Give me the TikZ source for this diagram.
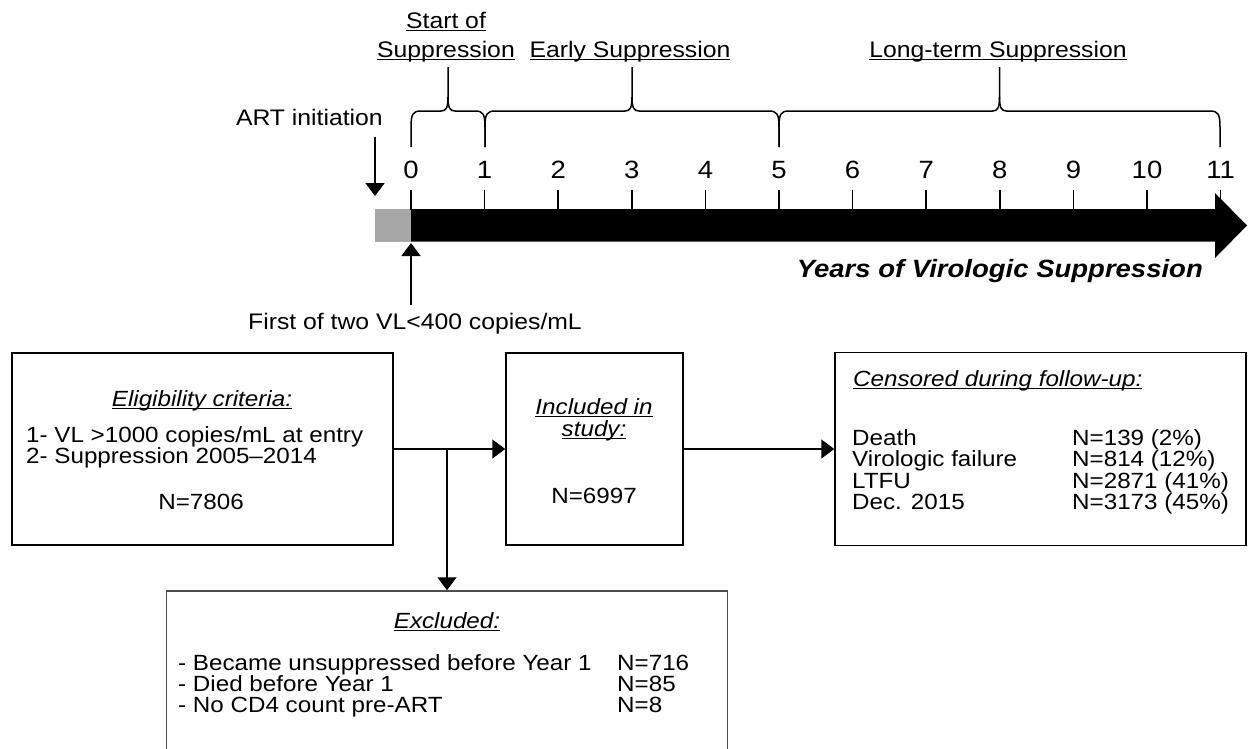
\documentclass[tikz,border=0pt]{standalone}
\usepackage{fontspec}
\setmainfont{Liberation Sans}[FakeStretch=1.1]
\usetikzlibrary{arrows.meta}
\newcommand\myul[1]{\setbox0=\hbox{#1}\rlap{\rule[-3pt]{\wd0}{1.5pt}}\box0}
\tikzset{
  boxx/.style={draw, line width=1.5pt, inner sep=0pt},
  txt/.style={inner sep=0pt, font=\fontsize{22pt}{22pt}\selectfont},
  lbl/.style={inner sep=0pt, font=\fontsize{22.5pt}{23pt}\selectfont},
  num/.style={inner sep=0pt, font=\fontsize{25pt}{25pt}\selectfont},
  arr/.style={line width=1.5pt, -{Triangle[width=19pt,length=13pt]}},
  tickmark/.style={line width=1.5pt},
  brc/.style={line width=1.5pt, line join=round},
}
\begin{document}
\begin{tikzpicture}[x=1pt,y=-1pt]
\useasboundingbox (0,0) rectangle (1248,748);
\clip (0,0) rectangle (1248,748);
\fill[white] (0,0) rectangle (1248,748);

% ---------- timeline ----------
\fill[black!35] (375,209) rectangle (411,241.5);
\fill[black] (411,209) -- (1215,209) -- (1215,193) -- (1247,225.5) -- (1215,258) -- (1215,241.5) -- (411,241.5) -- cycle;
\foreach \i in {0,...,11}{
  \draw[tickmark] ({411+73.6*\i},190) -- ({411+73.6*\i},209.5);
  \node[num, anchor=base] (n\i) at ({411+73.6*\i},178) {\i};
}

% braces
\foreach \a/\m/\b in {411/448/485, 485/632/779, 779/999.5/1220}{
  \draw[brc] (\a,147) -- (\a,127) .. controls (\a,114) and ({\a+2},111) .. ({\a+10},111)
     -- ({\m-7},111) .. controls ({\m-2},111) and (\m,108) .. (\m,97) -- (\m,67);
  \draw[brc] (\m,97) .. controls (\m,108) and ({\m+2},111) .. ({\m+7},111)
     -- ({\b-10},111) .. controls ({\b-2},111) and (\b,114) .. (\b,127) -- (\b,147);
}

\node[lbl, anchor=base] (s1) at (446,28) {\myul{Start of}};
\node[lbl, anchor=base] (s2) at (446,57) {\myul{Suppression}};
\node[lbl, anchor=base] (es) at (630,57) {\myul{Early Suppression}};
\node[lbl, anchor=base] (ls) at (998,57) {\myul{Long-term Suppression}};

\node[lbl, anchor=base east] (art) at (383,125) {ART initiation};
\coordinate (artA) at (375,137);
\coordinate (artB) at (375,196);
\draw[arr] (artA) -- (artB);

\node[lbl, anchor=base west] (fst) at (248,329) {First of two VL<400 copies/mL};
\coordinate (fstA) at (411,305);
\coordinate (fstB) at (411,243);
\draw[arr] (fstA) -- (fstB);

\node[anchor=base east, inner sep=0pt, font=\fontsize{25pt}{25pt}\selectfont\bfseries\itshape] (yrs) at (1203,277) {Years of Virologic Suppression};

% ---------- flow boxes ----------
\node[boxx, minimum width=381pt, minimum height=192pt] (elig) at (202.5,449) {};
\node[boxx, minimum width=177pt, minimum height=192pt] (incl) at (594.5,449) {};
\node[boxx, minimum width=411pt, minimum height=193pt] (cens) at (1040.5,449) {};
\node[boxx, draw=black!70, minimum width=561pt, minimum height=218pt] (excl) at (447,700) {};

\node[txt, anchor=base] (et) at (202,406) {\myul{\itshape Eligibility criteria:}};
\node[txt, anchor=base west] (e1) at (26,442) {1- VL >1000 copies/mL at entry};
\node[txt, anchor=base west] (e2) at (26,463) {2- Suppression 2005--2014};
\node[txt, anchor=base] (e3) at (201,509) {N=7806};

\node[txt, anchor=base] (i1) at (594,414) {\myul{\itshape Included in}};
\node[txt, anchor=base] (i2) at (594,436) {\myul{\itshape study:}};
\node[txt, anchor=base] (i3) at (594,503) {N=6997};

\node[txt, anchor=base west] (ct) at (853,386) {\myul{\itshape Censored during follow-up:}};
\node[txt, anchor=base west] (c1) at (852,445) {Death};
\node[txt, anchor=base west] (c2) at (852,466.5) {Virologic failure};
\node[txt, anchor=base west] (c3) at (852,488) {LTFU};
\node[txt, anchor=base west] (c4) at (852,509.5) {Dec. 2015};
\node[txt, anchor=base west] (d1) at (1072,445) {N=139 (2\%)};
\node[txt, anchor=base west] (d2) at (1072,466.5) {N=814 (12\%)};
\node[txt, anchor=base west] (d3) at (1072,488) {N=2871 (41\%)};
\node[txt, anchor=base west] (d4) at (1072,509.5) {N=3173 (45\%)};

\node[txt, anchor=base] (xt) at (447,628) {\myul{\itshape Excluded:}};
\node[txt, anchor=base west] (x1) at (178,670) {- Became unsuppressed before Year 1};
\node[txt, anchor=base west] (x2) at (178,691) {- Died before Year 1};
\node[txt, anchor=base west] (x3) at (178,712) {- No CD4 count pre-ART};
\node[txt, anchor=base west] (y1) at (617,670) {N=716};
\node[txt, anchor=base west] (y2) at (617,691) {N=85};
\node[txt, anchor=base west] (y3) at (617,712) {N=8};

% connectors
\coordinate (junc) at (447,449);
\draw[arr] (elig.east) -- (incl.west);
\draw[arr] (junc) -- (excl.north);
\draw[arr] (incl.east) -- (cens.west);
\end{tikzpicture}
\end{document}
